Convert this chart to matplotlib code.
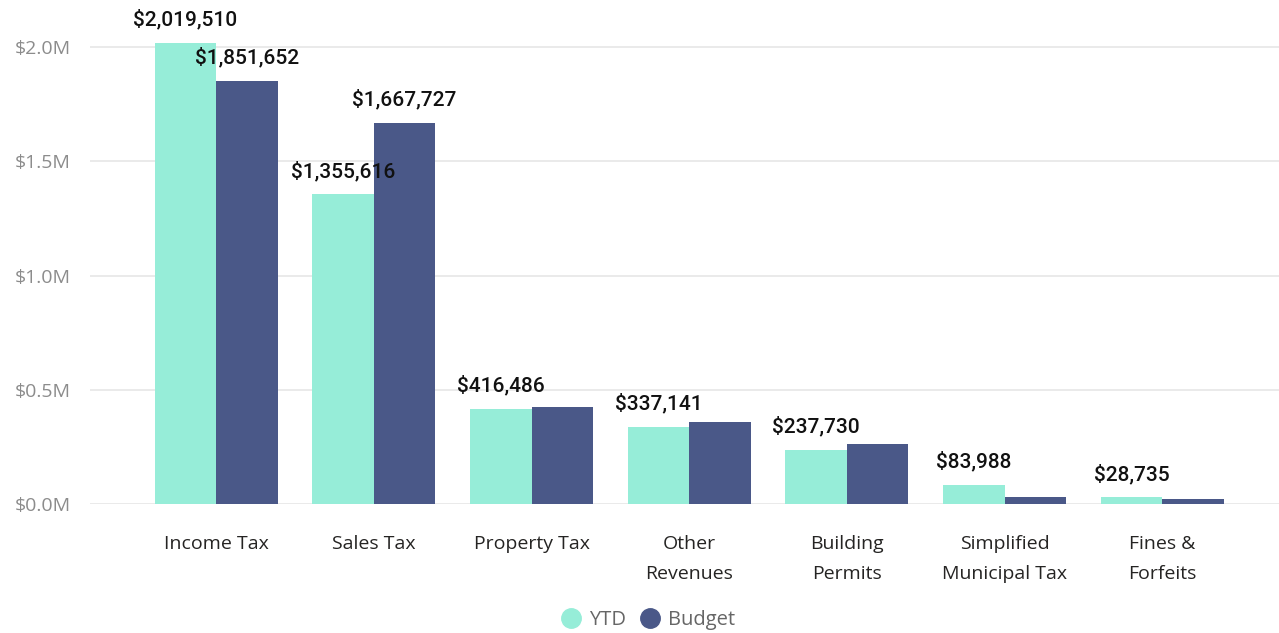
import matplotlib
matplotlib.use("Agg")
import matplotlib.pyplot as plt
import numpy as np
from matplotlib.lines import Line2D
from matplotlib.ticker import FuncFormatter

categories = ["Income Tax", "Sales Tax", "Property Tax", "Other\nRevenues",
              "Building\nPermits", "Simplified\nMunicipal Tax", "Fines &\nForfeits"]
ytd = [2019510, 1355616, 416486, 337141, 237730, 83988, 28735]
budget = [1851652, 1667727, 424000, 359000, 263000, 31000, 22000]
# budget labels are only shown where they fit
budget_labelled = [True, True, False, False, False, False, False]

YTD_COLOR = "#96EDD8"
BUDGET_COLOR = "#4A5888"

W, H = 1279, 633
fig = plt.figure(figsize=(W / 100, H / 100), dpi=100)
ax = fig.add_axes([90 / W, (H - 504) / H, (W - 90) / W, 494 / H])

x = np.arange(len(categories))
width = 0.39
ax.bar(x - width / 2, ytd, width, color=YTD_COLOR, zorder=2)
ax.bar(x + width / 2, budget, width, color=BUDGET_COLOR, zorder=2)

label_font = dict(family="Roboto", weight="medium", size=15, color="#111111")
for i, v in enumerate(ytd):
    ax.annotate(f"${v:,}", (x[i] - width / 2, v), xytext=(0, 9.5),
                textcoords="offset points", ha="center", va="bottom",
                zorder=3, **label_font)
for i, v in enumerate(budget):
    if budget_labelled[i]:
        ax.annotate(f"${v:,}", (x[i] + width / 2, v), xytext=(0, 9.5),
                    textcoords="offset points", ha="center", va="bottom",
                    zorder=3, **label_font)

ax.set_xlim(-0.8, len(categories) - 0.26)
ax.set_ylim(0, 2.162e6)
ax.set_yticks([0, 0.5e6, 1.0e6, 1.5e6, 2.0e6])
ax.yaxis.set_major_formatter(FuncFormatter(lambda v, _: f"${v / 1e6:.1f}M"))
ax.grid(axis="y", color="#E6E6E6", linewidth=1.2, zorder=0)
ax.set_axisbelow(True)
for s in ax.spines.values():
    s.set_visible(False)
ax.tick_params(axis="y", length=0, pad=14, labelsize=14, labelcolor="#8C8C8C")
ax.tick_params(axis="x", length=0, pad=22)
ax.set_xticks(x)
ax.set_xticklabels(categories, fontsize=14, color="#252423",
                   family="Open Sans", linespacing=1.9, va="top")
for t in ax.get_yticklabels():
    t.set_family("Open Sans")

handles = [Line2D([], [], marker="o", linestyle="", markersize=14, color=YTD_COLOR),
           Line2D([], [], marker="o", linestyle="", markersize=14, color=BUDGET_COLOR)]
leg = fig.legend(handles, ["YTD", "Budget"], loc="center", bbox_to_anchor=(643 / W, 13 / H),
                 ncol=2, frameon=False, handletextpad=-0.1, columnspacing=0.2,
                 prop={"family": "Open Sans", "size": 14.5})
for t in leg.get_texts():
    t.set_color("#666666")

fig.savefig("out.png", dpi=100)
